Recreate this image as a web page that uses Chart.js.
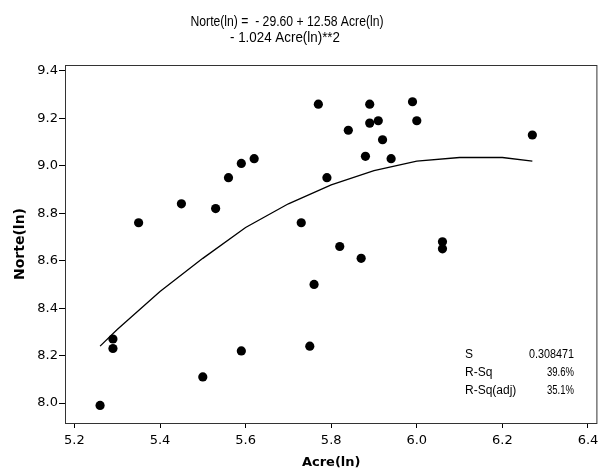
<!DOCTYPE html>
<html>
<head>
<meta charset="utf-8">
<script src="https://cdn.jsdelivr.net/npm/chart.js@4"></script>
<style>
  html, body { margin: 0; padding: 0; background: #fff; }
  #wrap { width: 602px; height: 472px; }
</style>
</head>
<body>
<div id="wrap"><canvas id="fitChart" width="602" height="472"></canvas></div>
<script>
const acreLn = [5.26, 5.29, 5.29, 5.35, 5.45, 5.50, 5.53, 5.56, 5.59, 5.59, 5.62, 5.73, 5.75, 5.76, 5.77, 5.79,
  5.82, 5.84, 5.87, 5.88, 5.89, 5.89, 5.91, 5.92, 5.94, 5.99, 6.00, 6.06, 6.06, 6.27];
const norteLn = [7.99, 8.27, 8.23, 8.76, 8.84, 8.11, 8.82, 8.95, 9.01, 8.22, 9.03, 8.76, 8.24, 8.50, 9.26, 8.95,
  8.66, 9.15, 8.61, 9.04, 9.26, 9.18, 9.19, 9.11, 9.03, 9.27, 9.19, 8.68, 8.65, 9.13];

// fitted curve as drawn
const fitX = [5.26, 5.30, 5.40, 5.50, 5.60, 5.70, 5.80, 5.90, 6.00, 6.10, 6.20, 6.27];
const fitY = [8.24, 8.31, 8.47, 8.61, 8.74, 8.84, 8.92, 8.98, 9.02, 9.035, 9.035, 9.02];

const xTicks = [5.2, 5.4, 5.6, 5.8, 6.0, 6.2, 6.4];
const yTicks = [8.0, 8.2, 8.4, 8.6, 8.8, 9.0, 9.2, 9.4];

const titleLines = ["Norte(ln) =  - 29.60 + 12.58 Acre(ln)", "- 1.024 Acre(ln)**2"];
const statNames = ["S", "R-Sq", "R-Sq(adj)"];
const statValues = ["0.308471", "39.6%", "35.1%"];

const textFont = "'DejaVu Sans', sans-serif";
const noteFont = "'Liberation Sans', Arial, sans-serif";

const frameAndText = {
  id: "frameAndText",
  afterDraw(chart) {
    const ctx = chart.ctx;
    const a = chart.chartArea;
    ctx.save();
    ctx.strokeStyle = "#333";
    ctx.lineWidth = 1;
    ctx.strokeRect(a.left + 0.5, a.top + 0.5, a.right - a.left - 1, a.bottom - a.top);

    // Minitab squeezes its annotation text, so squeeze to the widths seen
    ctx.fillStyle = "#000";
    ctx.textAlign = "center";
    ctx.textBaseline = "middle";
    ctx.font = "14px " + noteFont;
    ctx.fillText(titleLines[0], 287, 22, 193);
    ctx.fillText(titleLines[1], 285, 38, 110);

    ctx.font = "12px " + noteFont;
    const nameW = [8, 31, 60];
    const valW = [45, 27, 27];
    statNames.forEach((s, i) => {
      const y = 355 + i * 18;
      ctx.textAlign = "left";
      ctx.fillText(s, 465, y, nameW[i]);
      ctx.textAlign = "right";
      ctx.fillText(statValues[i], 574, y, valW[i]);
    });
    ctx.restore();
  },
};

new Chart(document.getElementById("fitChart"), {
  type: "scatter",
  data: {
    datasets: [
      {
        label: "Fit",
        type: "line",
        data: fitX.map((x, i) => ({ x: x, y: fitY[i] })),
        borderColor: "#000",
        borderWidth: 1.3,
        pointRadius: 0,
        fill: false,
        tension: 0,
      },
      {
        label: "Norte(ln)",
        data: acreLn.map((x, i) => ({ x: x, y: norteLn[i] })),
        pointStyle: "circle",
        pointRadius: 4.6,
        borderWidth: 0,
        backgroundColor: "#000",
        borderColor: "#000",
      },
    ],
  },
  options: {
    responsive: false,
    animation: false,
    layout: { padding: { top: 65, right: 3, left: 0, bottom: 0 } },
    plugins: {
      legend: { display: false },
      tooltip: { enabled: false },
    },
    scales: {
      x: {
        type: "linear",
        min: 5.178,
        max: 6.422,
        afterBuildTicks: (s) => { s.ticks = xTicks.map((v) => ({ value: v })); },
        afterFit: (s) => {
          s.height = 49;
          s.paddingLeft = 0;
          s.paddingRight = 0;
        },
        grid: { display: true, drawOnChartArea: false, tickLength: 5, color: "#000" },
        border: { display: false },
        ticks: {
          color: "#000",
          padding: 5,
          font: { family: textFont, size: 13 },
          callback: (v) => Number(v).toFixed(1),
        },
        title: {
          display: true,
          text: "Acre(ln)",
          color: "#000",
          font: { family: textFont, size: 13, weight: "bold" },
          padding: { top: 0, bottom: 2 },
        },
      },
      y: {
        type: "linear",
        min: 7.916,
        max: 9.425,
        afterBuildTicks: (s) => { s.ticks = yTicks.map((v) => ({ value: v })); },
        afterFit: (s) => {
          s.width = 65;
          s.paddingTop = 0;
          s.paddingBottom = 0;
        },
        grid: { display: true, drawOnChartArea: false, tickLength: 6, color: "#000" },
        border: { display: false },
        ticks: {
          color: "#000",
          padding: 1,
          font: { family: textFont, size: 13 },
          callback: (v) => Number(v).toFixed(1),
        },
        title: {
          display: true,
          text: "Norte(ln)",
          color: "#000",
          font: { family: textFont, size: 14, weight: "bold" },
          padding: { top: 12, bottom: 0 },
        },
      },
    },
  },
  plugins: [frameAndText],
});
</script>
</body>
</html>
